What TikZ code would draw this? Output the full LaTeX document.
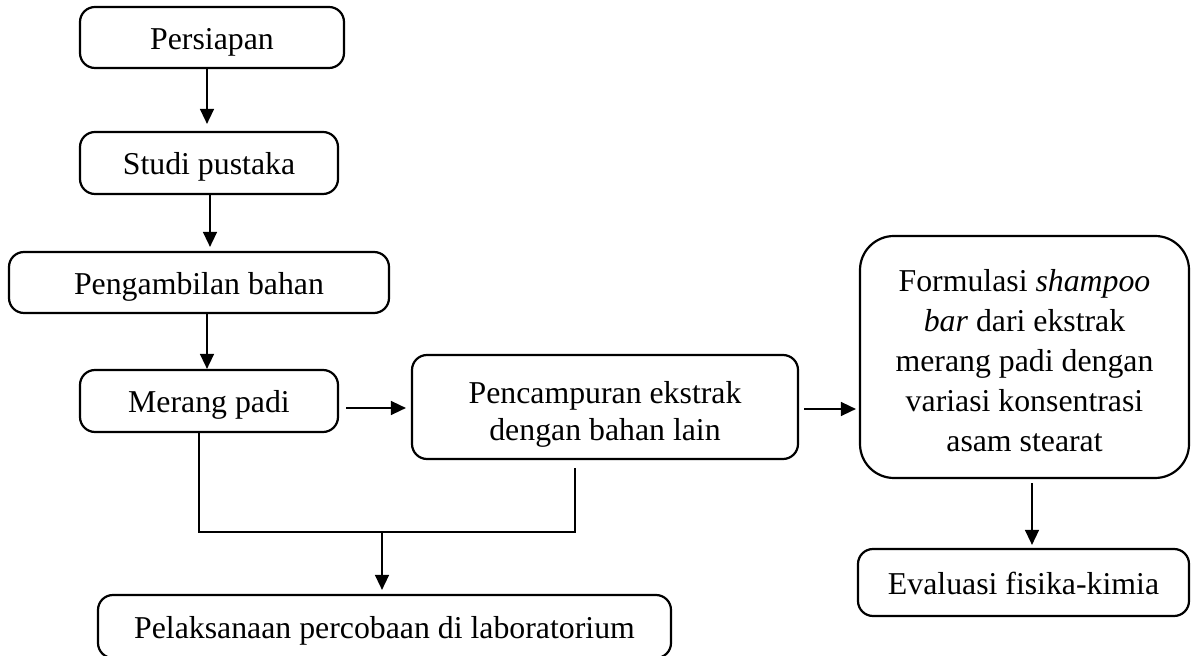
\documentclass[tikz,border=0pt]{standalone}
\usepackage{fontspec}
\setmainfont{Liberation Serif}
\usetikzlibrary{arrows.meta}
\begin{document}
\begin{tikzpicture}[x=0.5pt,y=-0.5pt,
  box/.style={draw,line width=1.1pt,rounded corners=7.5pt,inner sep=0pt,align=center,
    font=\fontsize{15.9}{19.5}\selectfont},
  one/.style={text height=12.5pt,text depth=0.5pt},
  mtext/.style={inner sep=0pt,align=center},
  arr/.style={line width=0.75pt,-{Triangle[length=7.5pt,width=7pt]}},
  link/.style={line width=1pt}]
\useasboundingbox (0,0) rectangle (1198,656);
\node[box,one,minimum width=132pt,minimum height=30.5pt] (p1) at (212,37.5) {Persiapan};
\node[box,one,minimum width=129pt,minimum height=31pt] (p2) at (209,163) {Studi pustaka};
\node[box,one,minimum width=190pt,minimum height=30.5pt] (p3) at (199,282.5) {Pengambilan bahan};
\node[box,one,minimum width=129pt,minimum height=31pt] (p4) at (209,401) {Merang padi};
\node[box,minimum width=193pt,minimum height=52pt,
  label={[name=p5t,mtext,font=\fontsize{15.9}{18.5}\selectfont,yshift=-3.5pt]center:{Pencampuran ekstrak\\dengan bahan lain}}] (p5) at (605,407) {};
\node[box,rounded corners=17pt,minimum width=164.5pt,minimum height=121pt,
  label={[name=p6t,mtext,font=\fontsize{15.9}{20}\selectfont,yshift=-2pt]center:{Formulasi \textit{shampoo}\\\textit{bar} dari ekstrak\\merang padi dengan\\variasi konsentrasi\\asam stearat}}] (p6) at (1024.5,357) {};
\node[box,one,minimum width=165.5pt,minimum height=33.5pt] (p7) at (1023.5,582.5) {Evaluasi fisika-kimia};
\node[box,one,minimum width=286.5pt,minimum height=31.5pt] (p8) at (384.5,626.5) {Pelaksanaan percobaan di laboratorium};
% vertical arrows
\coordinate (a1) at ([xshift=-2.5pt]p1.south);
\draw[arr,shorten >=3.5pt] (a1) -- (a1 |- p2.north);
\coordinate (a2) at ([xshift=0.5pt]p2.south);
\draw[arr,shorten >=2pt] (a2) -- (a2 |- p3.north);
\coordinate (a3) at ([xshift=4pt]p3.south);
\draw[arr] (a3) -- (a3 |- p4.north);
% horizontal arrows
\coordinate (h1) at ([xshift=3.5pt,yshift=-3.5pt]p4.east);
\draw[arr,shorten >=2.5pt] (h1) -- (h1 -| p5.west);
\coordinate (h2) at ([xshift=2.5pt,yshift=-1pt]p5.east);
\draw[arr,shorten >=1.5pt] (h2) -- (h2 -| p6.west);
\coordinate (a6) at ([xshift=3.75pt,yshift=-2pt]p6.south);
\draw[arr,shorten >=1.5pt] (a6) -- (a6 |- p7.north);
% merge lines
\coordinate (m1) at ([xshift=-5pt]p4.south);
\coordinate (m2) at ([xshift=-15pt,yshift=-4pt]p5.south);
\coordinate (mj) at (382,532);
\draw[link] (m1) -- (m1 |- mj) -- (m2 |- mj) -- (m2);
\draw[arr,shorten >=2pt] (mj) -- (mj |- p8.north);
\end{tikzpicture}
\end{document}
